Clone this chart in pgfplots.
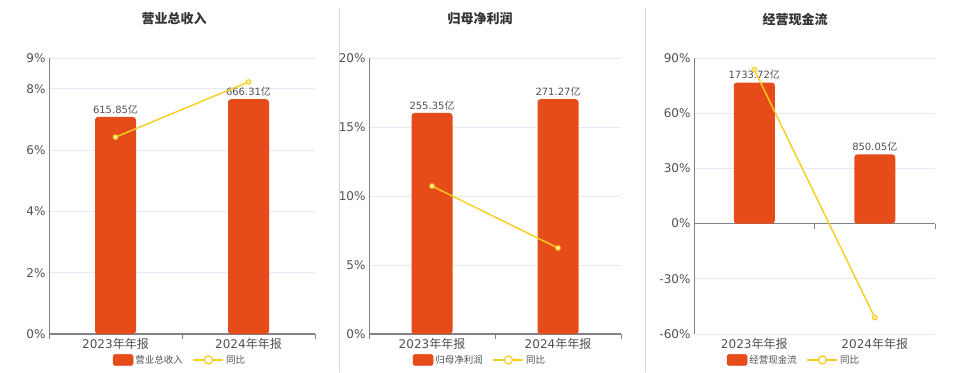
\documentclass[border=0pt]{standalone}
\usepackage{pgfplots}
\pgfplotsset{compat=1.18}
\usepackage{fontspec}
\setmainfont{DejaVu Sans}
\newfontfamily\cjk{Noto Sans CJK SC}
\definecolor{barc}{RGB}{230,75,26}
\definecolor{linec}{RGB}{245,206,30}
\definecolor{gridc}{RGB}{230,234,243}
\definecolor{axc}{RGB}{130,130,140}
\definecolor{txt}{RGB}{80,80,80}
\definecolor{sep}{RGB}{215,215,215}

\pgfplotsset{
  common/.style={scale only axis, xmin=-0.5, xmax=1.5, clip=false},
  baraxis/.style={common, axis y line=none, axis x line=middle,
    axis line style={-, axc, line width=1.3pt},
    xtick={-0.5,0.5,1.5}, xticklabels={}, tick align=outside,
    major tick length=5pt, xtick style={axc, line width=1pt}},
  axisA/.style={common, axis y line*=left, axis x line*=bottom,
    x axis line style={draw=none}, y axis line style={-, axc, line width=1pt},
    ymajorgrids, grid style={gridc, line width=0.8pt}, major tick length=0pt,
    xtick={0,1}, xticklabels={2023{\cjk 年年报},2024{\cjk 年年报}},
    tick label style={text=txt, font=\fontsize{12}{14}\selectfont},
    xticklabel style={yshift=-1pt},
    yticklabel={\pgfmathprintnumber[assume math mode=true]{\tick}\%}},
  axisC/.style={common, hide axis,
    legend columns=2,
    legend style={draw=none, fill=none, font=\cjk\fontsize{9.5}{11}\selectfont, text=txt, anchor=center,
      /tikz/every even column/.append style={column sep=8pt}}},
  bars/.style={ybar, bar width=41pt, fill=barc, draw=none, rounded corners=3pt,
    nodes near coords={\pgfmathprintnumber[fixed,precision=2,fixed zerofill,1000 sep={},assume math mode=true]{\pgfplotspointmeta}{\cjk 亿}},
    every node near coord/.append style={text=txt, font=\fontsize{10}{12}\selectfont, inner sep=3pt}},
  yoy/.style={linec, line width=1.4pt, mark=*, mark size=2.3pt, mark options={fill=linec!35!white, draw=linec, line width=1pt}},
  barleg/.style={legend image code/.code={\fill[barc, rounded corners=2pt] (0pt,-5.5pt) rectangle (20pt,5.5pt);}},
  lineleg/.style={legend image code/.code={\draw[linec, line width=1.3pt] (0pt,0pt) -- (30pt,0pt); \draw[linec, line width=1.3pt, fill=white] (15pt,0pt) circle (4pt);}}
}

\begin{document}
\begin{tikzpicture}[x=1pt,y=1pt]
\path[use as bounding box] (0,0) rectangle (960,372);
\draw[sep, line width=1.5pt] (339.5,0) -- (339.5,364);
\draw[sep, line width=1.5pt] (645.5,0) -- (645.5,364);

\node[font=\cjk\bfseries\fontsize{13}{15}\selectfont, text=black!80] at (174,353) {营业总收入};
\node[font=\cjk\bfseries\fontsize{13}{15}\selectfont, text=black!80] at (480,353) {归母净利润};
\node[font=\cjk\bfseries\fontsize{13}{15}\selectfont, text=black!80] at (795,353) {经营现金流};

% ---------- Panel 1 ----------
\begin{axis}[axisA, at={(49pt,38pt)}, anchor=south west, width=266pt, height=276pt,
  ymin=0, ymax=9, ytick={0,2,4,6,8,9}]
\addplot[draw=none] coordinates {(0,0)};
\end{axis}
\begin{axis}[baraxis, at={(49pt,38pt)}, anchor=south west, width=266pt, height=276pt,
  ymin=0, ymax=783.3]
\addplot[bars] coordinates {(0,615.85) (1,666.31)};
\end{axis}
\begin{axis}[axisC, at={(49pt,38pt)}, anchor=south west, width=266pt, height=276pt,
  ymin=0, ymax=9, legend style={at={(axis description cs:0.4925,-0.094)}}]
\addlegendimage{barleg}
\addlegendentry{营业总收入}
\addlegendimage{lineleg}
\addlegendentry{同比}
\addplot[yoy, forget plot] coordinates {(0,6.42) (1,8.22)};
\end{axis}

% ---------- Panel 2 ----------
\begin{axis}[axisA, at={(369pt,38pt)}, anchor=south west, width=252pt, height=276pt,
  ymin=0, ymax=20, ytick={0,5,10,15,20}]
\addplot[draw=none] coordinates {(0,0)};
\end{axis}
\begin{axis}[baraxis, at={(369pt,38pt)}, anchor=south west, width=252pt, height=276pt,
  ymin=0, ymax=318.9]
\addplot[bars] coordinates {(0,255.35) (1,271.27)};
\end{axis}
\begin{axis}[axisC, at={(369pt,38pt)}, anchor=south west, width=252pt, height=276pt,
  ymin=0, ymax=20, legend style={at={(axis description cs:0.4405,-0.094)}}]
\addlegendimage{barleg}
\addlegendentry{归母净利润}
\addlegendimage{lineleg}
\addlegendentry{同比}
\addplot[yoy, forget plot] coordinates {(0,10.72) (1,6.23)};
\end{axis}

% ---------- Panel 3 ----------
\begin{axis}[axisA, at={(694pt,38pt)}, anchor=south west, width=241pt, height=276pt,
  ymin=-60, ymax=90, ytick={-60,-30,0,30,60,90}]
\addplot[draw=none] coordinates {(0,0)};
\end{axis}
\begin{axis}[baraxis, at={(694pt,38pt)}, anchor=south west, width=241pt, height=276pt,
  ymin=-1357, ymax=2036]
\addplot[bars] coordinates {(0,1733.72) (1,850.05)};
\end{axis}
\begin{axis}[axisC, at={(694pt,38pt)}, anchor=south west, width=241pt, height=276pt,
  ymin=-60, ymax=90, legend style={at={(axis description cs:0.415,-0.094)}}]
\addlegendimage{barleg}
\addlegendentry{经营现金流}
\addlegendimage{lineleg}
\addlegendentry{同比}
\addplot[yoy, forget plot] coordinates {(0,83.7) (1,-51.1)};
\end{axis}
\end{tikzpicture}
\end{document}
